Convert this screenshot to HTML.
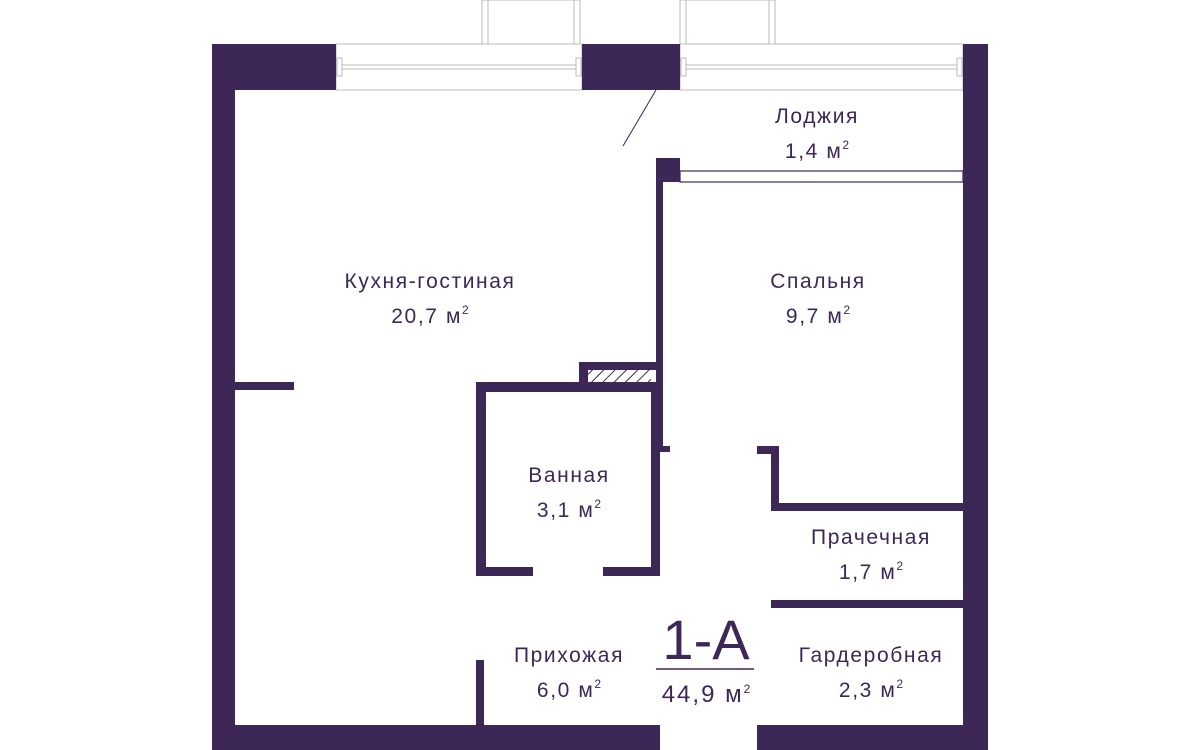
<!DOCTYPE html>
<html><head><meta charset="utf-8"><style>
html,body{margin:0;padding:0;background:#fff;}
body{width:1200px;height:750px;position:relative;overflow:hidden;font-family:"Liberation Sans","DejaVu Sans",sans-serif;}
.t{position:absolute;color:#3d2757;font-size:21px;letter-spacing:1.6px;text-align:center;line-height:29px;transform:translateX(-50%);white-space:nowrap;}
sup{font-size:12px;vertical-align:9px;letter-spacing:0;}
</style></head><body>
<svg width="1200" height="750" style="position:absolute;left:0;top:0">
<defs><pattern id="h" width="8" height="8" patternUnits="userSpaceOnUse" patternTransform="rotate(45)"><rect width="8" height="8" fill="#fff"/><line x1="0" y1="0" x2="0" y2="8" stroke="#3d2757" stroke-width="2"/></pattern></defs>
<g fill="none" stroke="#bbb" stroke-width="1">
<rect x="482" y="0" width="98" height="44"/><line x1="488" y1="0" x2="488" y2="44"/><line x1="574" y1="0" x2="574" y2="44"/>
<rect x="680" y="0" width="95" height="44"/><line x1="686" y1="0" x2="686" y2="44"/><line x1="769" y1="0" x2="769" y2="44"/>
<rect x="336" y="44" width="246" height="46"/><rect x="680" y="44" width="283" height="46"/>
<rect x="337" y="58" width="5" height="18"/><rect x="576" y="58" width="5" height="18"/><rect x="342" y="65" width="234" height="4"/>
<rect x="681" y="58" width="5" height="18"/><rect x="957" y="58" width="5" height="18"/><rect x="686" y="65" width="271" height="4"/>
</g>
<g fill="#3d2757">
<rect x="212" y="44" width="124" height="46"/>
<rect x="212" y="44" width="23" height="706"/>
<rect x="212" y="725" width="448" height="25"/>
<rect x="757" y="725" width="231" height="25"/>
<rect x="963" y="44" width="25" height="706"/>
<rect x="582" y="44" width="98" height="46"/>
<rect x="235" y="382" width="59" height="8"/>
<rect x="656" y="158" width="24" height="24"/>
<rect x="656" y="158" width="7" height="290"/>
<rect x="476" y="382" width="184" height="10"/>
<rect x="579" y="362" width="9" height="22"/>
<rect x="579" y="362" width="81" height="8"/>
<rect x="476" y="382" width="10" height="194"/>
<rect x="476" y="567" width="57" height="9"/>
<rect x="603" y="567" width="57" height="9"/>
<rect x="651" y="382" width="9" height="194"/>
<rect x="651" y="446" width="19" height="6"/>
<rect x="757" y="446" width="22" height="8"/>
<rect x="771" y="446" width="8" height="65"/>
<rect x="771" y="503" width="192" height="8"/>
<rect x="771" y="600" width="192" height="8"/>
<rect x="476" y="660" width="8" height="65"/>
</g>
<rect x="588" y="370" width="63" height="12" fill="url(#h)"/>
<rect x="680" y="171" width="283" height="11" fill="none" stroke="#3d2757" stroke-width="1.2"/>
<line x1="656" y1="90" x2="623" y2="146" stroke="#3d2757" stroke-width="1"/>
<line x1="656" y1="669" x2="754" y2="669" stroke="#3d2757" stroke-width="1.5"/>
</svg>
<div class="t" style="left:817px;top:102px">Лоджия<br>1,4 м<sup>2</sup></div>
<div class="t" style="left:430px;top:267px">Кухня-гостиная<br>20,7 м<sup>2</sup></div>
<div class="t" style="left:818px;top:267px">Спальня<br>9,7 м<sup>2</sup></div>
<div class="t" style="left:569px;top:461px">Ванная<br>3,1 м<sup>2</sup></div>
<div class="t" style="left:871px;top:523px">Прачечная<br>1,7 м<sup>2</sup></div>
<div class="t" style="left:569px;top:641px">Прихожая<br>6,0 м<sup>2</sup></div>
<div class="t" style="left:871px;top:641px">Гардеробная<br>2,3 м<sup>2</sup></div>
<div class="t" style="left:706px;top:610px;font-size:56px;line-height:60px;letter-spacing:0">1-A</div>
<div class="t" style="left:706px;top:674px;font-size:24px;letter-spacing:2px;line-height:30px">44,9 м<sup>2</sup></div>
</body></html>
